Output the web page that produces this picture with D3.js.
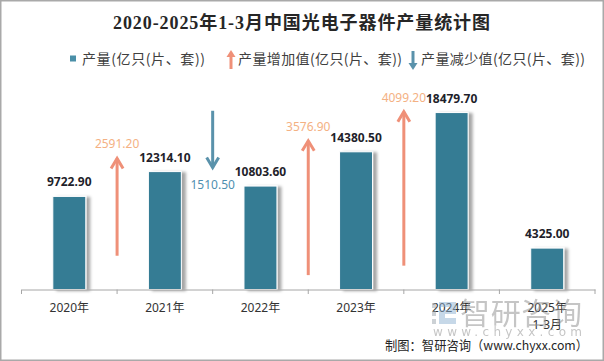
<!DOCTYPE html>
<html>
<head>
<meta charset="utf-8">
<script src="https://cdn.jsdelivr.net/npm/d3@7"></script>
<style>
  body { margin: 0; background: #fff; }
  svg { display: block; }
</style>
</head>
<body>
<div id="chart"></div>
<script>
// 数据
const categories = ["2020年", "2021年", "2022年", "2023年", "2024年", "2025年|1-3月"];
const output = [9722.9, 12314.1, 10803.6, 14380.5, 18479.7, 4325.0];
// 增减值（正 = 增加，负 = 减少）
const changeValues = [null, 2591.2, -1510.5, 3576.9, 4099.2, null];
// 辅助隐藏系列（次坐标轴），箭头顶端所在值
const arrowAnchor = [null, 3490, 4760, 3960, 4734, null];
const yTicks = [0, 20000];

const width = 604, height = 361;
const margin = { top: 98, right: 9, bottom: 72, left: 21 };
const baseY = height - margin.bottom + 0.5;

const upColor = "#ef9078", downColor = "#5a92ab";
const barColor = "#367b94";

const svg = d3.select("#chart").append("svg")
    .attr("width", width)
    .attr("height", height);

const defs = svg.append("defs");
const f = defs.append("filter").attr("id", "shadow")
    .attr("x", "-30%").attr("y", "-10%").attr("width", "160%").attr("height", "120%");
f.append("feDropShadow")
    .attr("dx", 4).attr("dy", 1).attr("stdDeviation", 1.6)
    .attr("flood-color", "#000").attr("flood-opacity", 0.35);

// 边框
svg.append("rect")
    .attr("x", 0.75).attr("y", 0.75)
    .attr("width", width - 1.5).attr("height", height - 1.5)
    .attr("fill", "#fff").attr("stroke", "#a9a9a9").attr("stroke-width", 1.5);

// 标题
svg.append("text")
    .attr("x", 113).attr("y", 29)
    .attr("font-family", "'Liberation Serif', 'Noto Sans CJK SC', serif")
    .attr("font-weight", "bold")
    .attr("font-size", "18px")
    .attr("fill", "#262626")
    .attr("textLength", 377)
    .attr("lengthAdjust", "spacing")
    .text("2020-2025年1-3月中国光电子器件产量统计图");

// 图例
const legendFont = "'Noto Sans CJK SC', sans-serif";
const lg = svg.append("g").attr("font-family", legendFont).attr("font-size", "14px").attr("fill", "#404040");
lg.append("rect").attr("x", 70).attr("y", 55.5).attr("width", 6).attr("height", 6).attr("fill", "#4a8fa8");
lg.append("text").attr("x", 82).attr("y", 63.5)
    .attr("textLength", 123).attr("lengthAdjust", "spacing")
    .text("产量(亿只(片、套))");

function legendArrow(x, y1, y2, color) {
    const dir = y2 < y1 ? -1 : 1;
    lg.append("line").attr("x1", x).attr("x2", x).attr("y1", y1).attr("y2", y2 - dir * 6)
        .attr("stroke", color).attr("stroke-width", 3);
    lg.append("path")
        .attr("d", `M${x - 4.5},${y2 - dir * 7}L${x},${y2}L${x + 4.5},${y2 - dir * 7}Z`)
        .attr("fill", color);
}
legendArrow(231, 69, 50, upColor);
lg.append("text").attr("x", 238).attr("y", 63.5)
    .attr("textLength", 164).attr("lengthAdjust", "spacing")
    .text("产量增加值(亿只(片、套))");
legendArrow(413, 51, 70, downColor);
lg.append("text").attr("x", 421).attr("y", 63.5)
    .attr("textLength", 164).attr("lengthAdjust", "spacing")
    .text("产量减少值(亿只(片、套))");

// 比例尺
const x = d3.scaleBand()
    .domain(categories)
    .range([margin.left + 0.5, width - margin.right])
    .padding(0);

const y = d3.scaleLinear()
    .domain([yTicks[0], yTicks[1]])
    .range([baseY, margin.top]);

// 次坐标轴（箭头）
const y2 = d3.scaleLinear()
    .domain([0, 5100])
    .range([baseY, margin.top]);

const barW = x.bandwidth() * 0.345;

// 柱子
svg.append("g").selectAll("rect")
    .data(output)
    .join("rect")
    .attr("x", (d, i) => x(categories[i]) + (x.bandwidth() - barW) / 2)
    .attr("y", d => y(d))
    .attr("width", barW)
    .attr("height", d => baseY - y(d))
    .attr("fill", barColor)
    .attr("stroke", "#fff")
    .attr("stroke-width", 1)
    .attr("filter", "url(#shadow)");

// 柱子数值
svg.append("g").selectAll("text")
    .data(output)
    .join("text")
    .attr("x", (d, i) => x(categories[i]) + x.bandwidth() / 2)
    .attr("y", d => y(d) - 10)
    .attr("text-anchor", "middle")
    .attr("font-family", "'Noto Sans', sans-serif")
    .attr("font-weight", "bold")
    .attr("font-size", "12px")
    .attr("fill", "#1f1f2b")
    .text(d => d.toFixed(2));

// 增减箭头
const arrows = changeValues.map((v, i) => ({ v, top: arrowAnchor[i], cat: categories[i] }))
    .filter(d => d.v !== null);

const ag = svg.append("g");
arrows.forEach(d => {
    const ax = x(d.cat);
    const up = d.v > 0;
    const color = up ? upColor : downColor;
    const yTop = y2(d.top);
    const yBot = y2(d.top - Math.abs(d.v));
    const tip = up ? yTop : yBot;
    const dir = up ? 1 : -1;
    ag.append("line")
        .attr("x1", ax).attr("x2", ax)
        .attr("y1", up ? yBot : yTop).attr("y2", tip)
        .attr("stroke", color).attr("stroke-width", 3);
    ag.append("path")
        .attr("d", `M${ax - 6},${tip + dir * 10}L${ax},${tip}L${ax + 6},${tip + dir * 10}`)
        .attr("fill", "none").attr("stroke", color).attr("stroke-width", 3)
        .attr("stroke-linejoin", "miter");
    ag.append("text")
        .attr("x", ax)
        .attr("y", up ? yTop - 10 : yBot + 22)
        .attr("text-anchor", "middle")
        .attr("font-family", "'Noto Sans', sans-serif")
        .attr("font-size", "12px")
        .attr("fill", up ? "#f4b183" : "#4f8fb0")
        .text(Math.abs(d.v).toFixed(2));
});

// X 轴
const xAxis = svg.append("g")
    .attr("transform", `translate(0,${baseY})`)
    .call(d3.axisBottom(x).tickSize(0).tickFormat(""));
xAxis.select(".domain").attr("stroke", "#a6a6a6");
xAxis.selectAll(".tick").remove();

const tickPos = categories.map(c => x(c)).concat([x.range()[1]]);
xAxis.selectAll(".sep")
    .data(tickPos)
    .join("line")
    .attr("class", "sep")
    .attr("x1", d => d).attr("x2", d => d)
    .attr("y1", 0).attr("y2", 4.5)
    .attr("stroke", "#a6a6a6");

const xl = svg.append("g")
    .attr("font-family", "'Noto Sans', 'Noto Sans CJK SC', sans-serif")
    .attr("font-size", "12px")
    .attr("fill", "#333");
categories.forEach(c => {
    const lines = c.split("|");
    const t = xl.append("text")
        .attr("x", x(c) + x.bandwidth() / 2)
        .attr("y", baseY + 22)
        .attr("text-anchor", "middle");
    lines.forEach((ln, k) => {
        t.append("tspan")
            .attr("x", x(c) + x.bandwidth() / 2)
            .attr("dy", k === 0 ? 0 : 17)
            .text(ln);
    });
});

// 水印
const wm = svg.append("g").attr("opacity", 0.5);
wm.append("rect").attr("x", 432).attr("y", 303).attr("width", 4).attr("height", 5).attr("fill", "#9aa4ad");
wm.append("rect").attr("x", 432).attr("y", 311).attr("width", 4).attr("height", 5).attr("fill", "#9aa4ad");
wm.append("rect").attr("x", 432).attr("y", 319).attr("width", 4).attr("height", 5).attr("fill", "#9aa4ad");
wm.append("path")
    .attr("d", "M439,302h17v12h-11v4h11v6h-17v-14h11v-3h-11z")
    .attr("fill", "#8fb3d3");
wm.append("text")
    .attr("x", 460).attr("y", 324)
    .attr("font-family", "'Noto Sans CJK SC', sans-serif")
    .attr("font-size", "30px")
    .attr("fill", "#8c8c8c")
    .attr("textLength", 122)
    .text("智研咨询");
wm.append("text")
    .attr("x", 433).attr("y", 336)
    .attr("font-family", "'DejaVu Sans', sans-serif")
    .attr("font-size", "12px")
    .attr("fill", "#8c8c8c")
    .attr("textLength", 149)
    .attr("lengthAdjust", "spacing")
    .text("www.chyxx.com");

// 来源
svg.append("text")
    .attr("x", 385).attr("y", 350)
    .attr("font-family", "'Noto Sans CJK SC', sans-serif")
    .attr("font-size", "13px")
    .attr("fill", "#262626")
    .attr("textLength", 203)
    .attr("lengthAdjust", "spacingAndGlyphs")
    .text("制图：智研咨询（www.chyxx.com）");
</script>
</body>
</html>
